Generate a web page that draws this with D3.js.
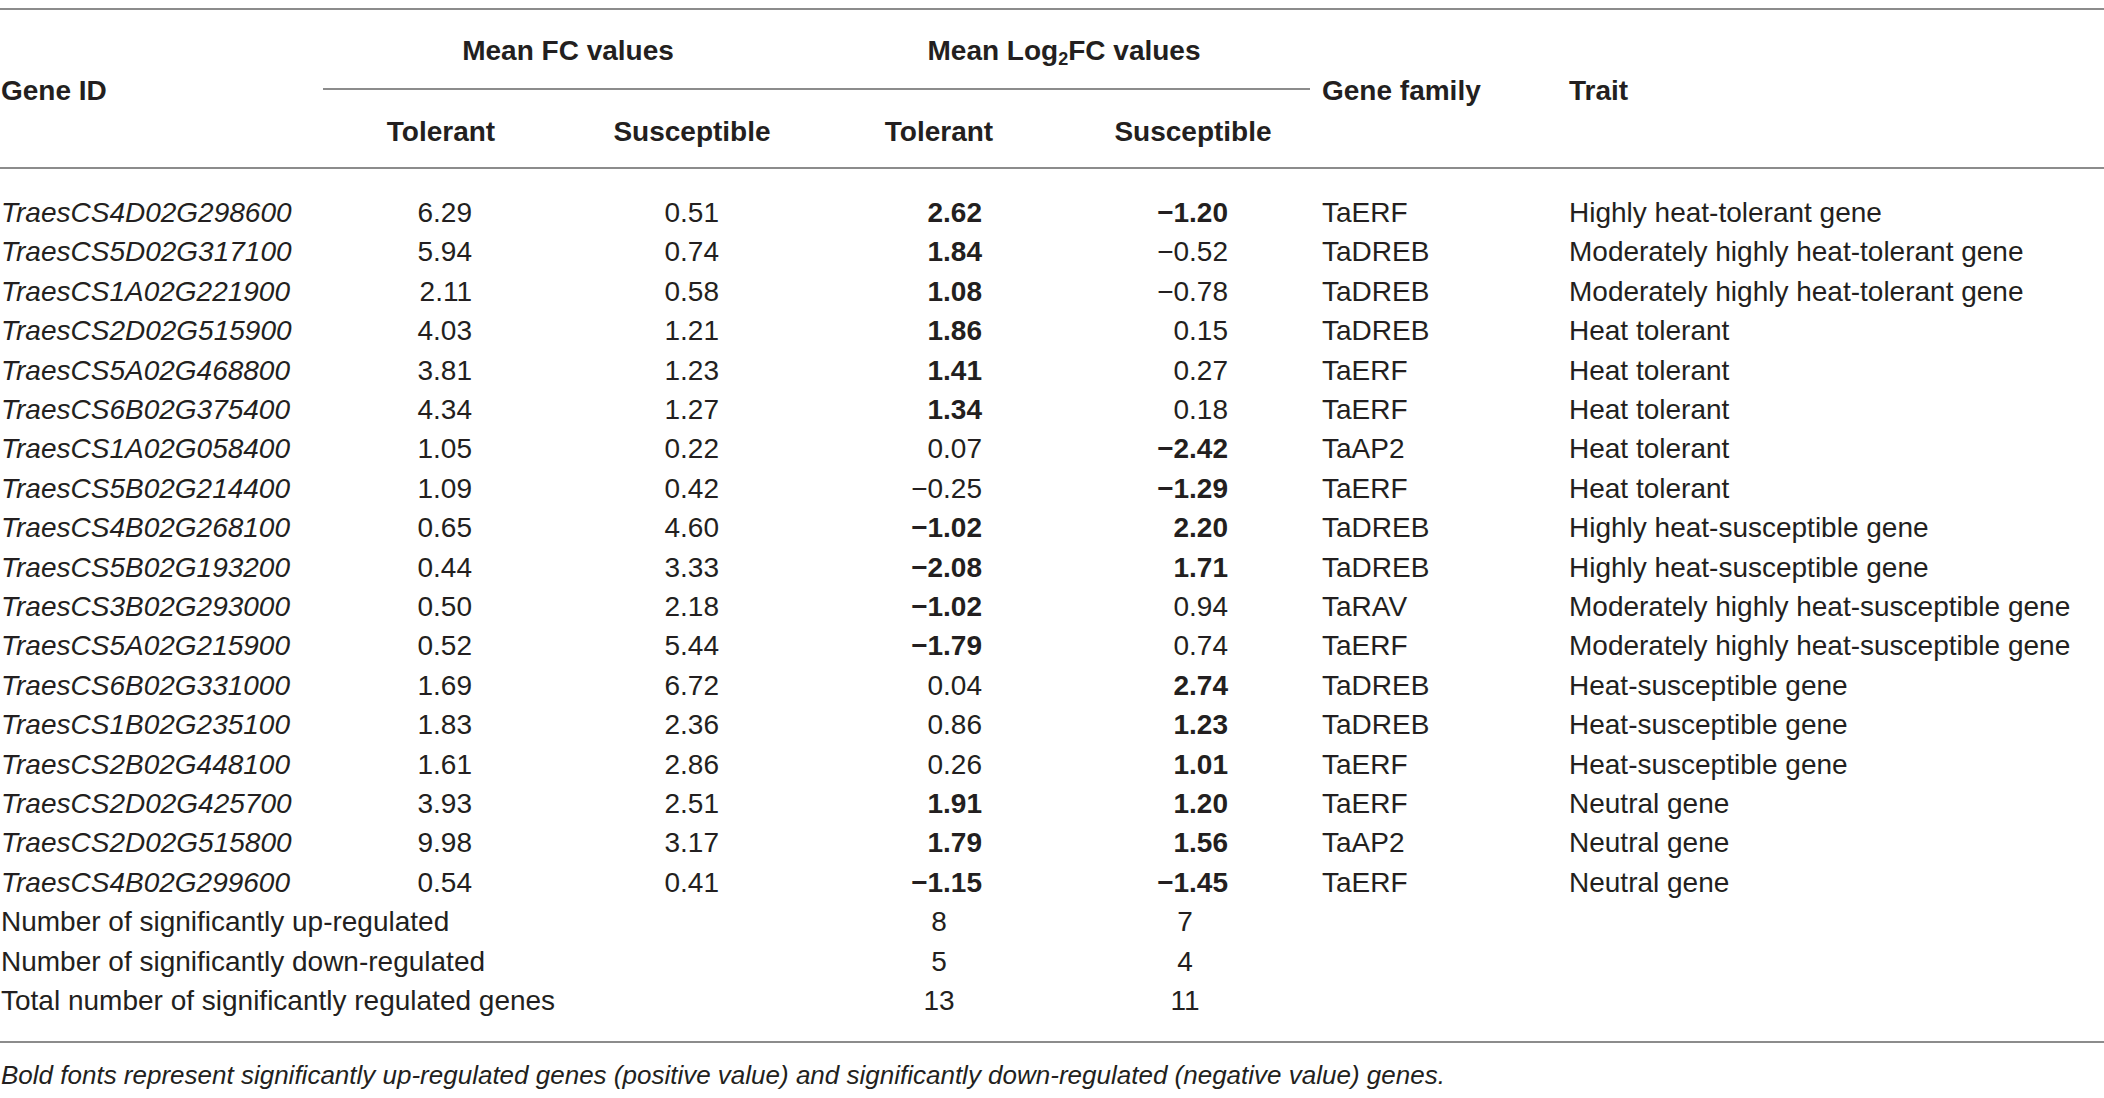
<!DOCTYPE html>
<html>
<head>
<meta charset="utf-8">
<script src="https://cdn.jsdelivr.net/npm/d3@7"></script>
<style>
  html, body { margin: 0; padding: 0; background: #fff; }
  svg text { font-family: "Liberation Sans", Arial, sans-serif; fill: #231f20; }
</style>
</head>
<body>
<svg id="table"></svg>
<script>
// table data
const geneIds = [
  "TraesCS4D02G298600", "TraesCS5D02G317100", "TraesCS1A02G221900", "TraesCS2D02G515900",
  "TraesCS5A02G468800", "TraesCS6B02G375400", "TraesCS1A02G058400", "TraesCS5B02G214400",
  "TraesCS4B02G268100", "TraesCS5B02G193200", "TraesCS3B02G293000", "TraesCS5A02G215900",
  "TraesCS6B02G331000", "TraesCS1B02G235100", "TraesCS2B02G448100", "TraesCS2D02G425700",
  "TraesCS2D02G515800", "TraesCS4B02G299600"
];
const fcTolerant = [6.29, 5.94, 2.11, 4.03, 3.81, 4.34, 1.05, 1.09, 0.65, 0.44, 0.50, 0.52, 1.69, 1.83, 1.61, 3.93, 9.98, 0.54];
const fcSusceptible = [0.51, 0.74, 0.58, 1.21, 1.23, 1.27, 0.22, 0.42, 4.60, 3.33, 2.18, 5.44, 6.72, 2.36, 2.86, 2.51, 3.17, 0.41];
const log2Tolerant = [2.62, 1.84, 1.08, 1.86, 1.41, 1.34, 0.07, -0.25, -1.02, -2.08, -1.02, -1.79, 0.04, 0.86, 0.26, 1.91, 1.79, -1.15];
const log2Susceptible = [-1.20, -0.52, -0.78, 0.15, 0.27, 0.18, -2.42, -1.29, 2.20, 1.71, 0.94, 0.74, 2.74, 1.23, 1.01, 1.20, 1.56, -1.45];
const geneFamily = ["TaERF", "TaDREB", "TaDREB", "TaDREB", "TaERF", "TaERF", "TaAP2", "TaERF", "TaDREB",
  "TaDREB", "TaRAV", "TaERF", "TaDREB", "TaDREB", "TaERF", "TaERF", "TaAP2", "TaERF"];
const traits = [
  "Highly heat-tolerant gene", "Moderately highly heat-tolerant gene", "Moderately highly heat-tolerant gene",
  "Heat tolerant", "Heat tolerant", "Heat tolerant", "Heat tolerant", "Heat tolerant",
  "Highly heat-susceptible gene", "Highly heat-susceptible gene",
  "Moderately highly heat-susceptible gene", "Moderately highly heat-susceptible gene",
  "Heat-susceptible gene", "Heat-susceptible gene", "Heat-susceptible gene",
  "Neutral gene", "Neutral gene", "Neutral gene"
];
const summaryLabels = ["Number of significantly up-regulated", "Number of significantly down-regulated",
  "Total number of significantly regulated genes"];
const summaryTolerant = [8, 5, 13];
const summarySusceptible = [7, 4, 11];
const footnote = "Bold fonts represent significantly up-regulated genes (positive value) and significantly down-regulated (negative value) genes.";

const W = 2104, H = 1098;
const fontSize = 28, headSize = 28;
const ruleColor = "#8c8c8c";

const svg = d3.select("#table").attr("width", W).attr("height", H);

// column anchors
const col = {
  gene: 1, fcTol: 472, fcSus: 719, lgTol: 982, lgSus: 1228,
  lgTolMid: 939, lgSusMid: 1185, family: 1322, trait: 1569
};

// rows: 18 genes + 3 summary rows
const nRows = geneIds.length + summaryLabels.length;
const y = d3.scalePoint().domain(d3.range(nRows)).range([222, 222 + (nRows - 1) * 39.4]);

const fmt = v => (v < 0 ? "\u2212" : "") + Math.abs(v).toFixed(2);
const isSig = v => Math.abs(v) >= 1;

// rules
function rule(x1, x2, yy) {
  svg.append("line").attr("x1", x1).attr("x2", x2).attr("y1", yy).attr("y2", yy)
    .attr("stroke", ruleColor).attr("stroke-width", 2);
}
rule(0, W, 9);
rule(323, 1310, 89);
rule(0, W, 168);
rule(0, W, 1042);

// header
const head = svg.append("g").style("font-weight", "bold").style("font-size", headSize + "px");
head.append("text").attr("x", col.gene).attr("y", 100).text("Gene ID");
head.append("text").attr("x", 568).attr("y", 60).attr("text-anchor", "middle").text("Mean FC values");
const lg = head.append("text").attr("x", 1064).attr("y", 60).attr("text-anchor", "middle");
lg.append("tspan").text("Mean Log");
lg.append("tspan").attr("dy", 5).style("font-size", "18px").text("2");
lg.append("tspan").attr("dy", -5).text("FC values");
head.append("text").attr("x", col.family).attr("y", 100).text("Gene family");
head.append("text").attr("x", col.trait).attr("y", 100).text("Trait");
[["Tolerant", 441], ["Susceptible", 692], ["Tolerant", 939], ["Susceptible", 1193]].forEach(([t, x]) => {
  head.append("text").attr("x", x).attr("y", 141).attr("text-anchor", "middle").text(t);
});

// body rows
const rows = geneIds.map((id, i) => ({
  id, fcT: fcTolerant[i], fcS: fcSusceptible[i], lgT: log2Tolerant[i], lgS: log2Susceptible[i],
  fam: geneFamily[i], trait: traits[i], i
}));

const body = svg.append("g").style("font-size", fontSize + "px");
const rowG = body.selectAll("g.row").data(rows).join("g")
  .attr("class", "row")
  .attr("transform", d => `translate(0,${y(d.i)})`);

rowG.append("text").attr("x", col.gene).style("font-style", "italic").text(d => d.id);
rowG.append("text").attr("x", col.fcTol).attr("text-anchor", "end").text(d => d.fcT.toFixed(2));
rowG.append("text").attr("x", col.fcSus).attr("text-anchor", "end").text(d => d.fcS.toFixed(2));
rowG.append("text").attr("x", col.lgTol).attr("text-anchor", "end")
  .style("font-weight", d => isSig(d.lgT) ? "bold" : "normal").text(d => fmt(d.lgT));
rowG.append("text").attr("x", col.lgSus).attr("text-anchor", "end")
  .style("font-weight", d => isSig(d.lgS) ? "bold" : "normal").text(d => fmt(d.lgS));
rowG.append("text").attr("x", col.family).text(d => d.fam);
rowG.append("text").attr("x", col.trait).text(d => d.trait);

// summary rows
const sumRows = summaryLabels.map((label, k) => ({
  label, t: summaryTolerant[k], s: summarySusceptible[k], i: geneIds.length + k
}));
const sumG = body.selectAll("g.sum").data(sumRows).join("g")
  .attr("class", "sum")
  .attr("transform", d => `translate(0,${y(d.i)})`);
sumG.append("text").attr("x", col.gene).text(d => d.label);
sumG.append("text").attr("x", col.lgTolMid).attr("text-anchor", "middle").text(d => d.t);
sumG.append("text").attr("x", col.lgSusMid).attr("text-anchor", "middle").text(d => d.s);

// footnote
svg.append("text").attr("x", col.gene).attr("y", 1084)
  .style("font-size", "26px").style("font-style", "italic").text(footnote);
</script>
</body>
</html>
